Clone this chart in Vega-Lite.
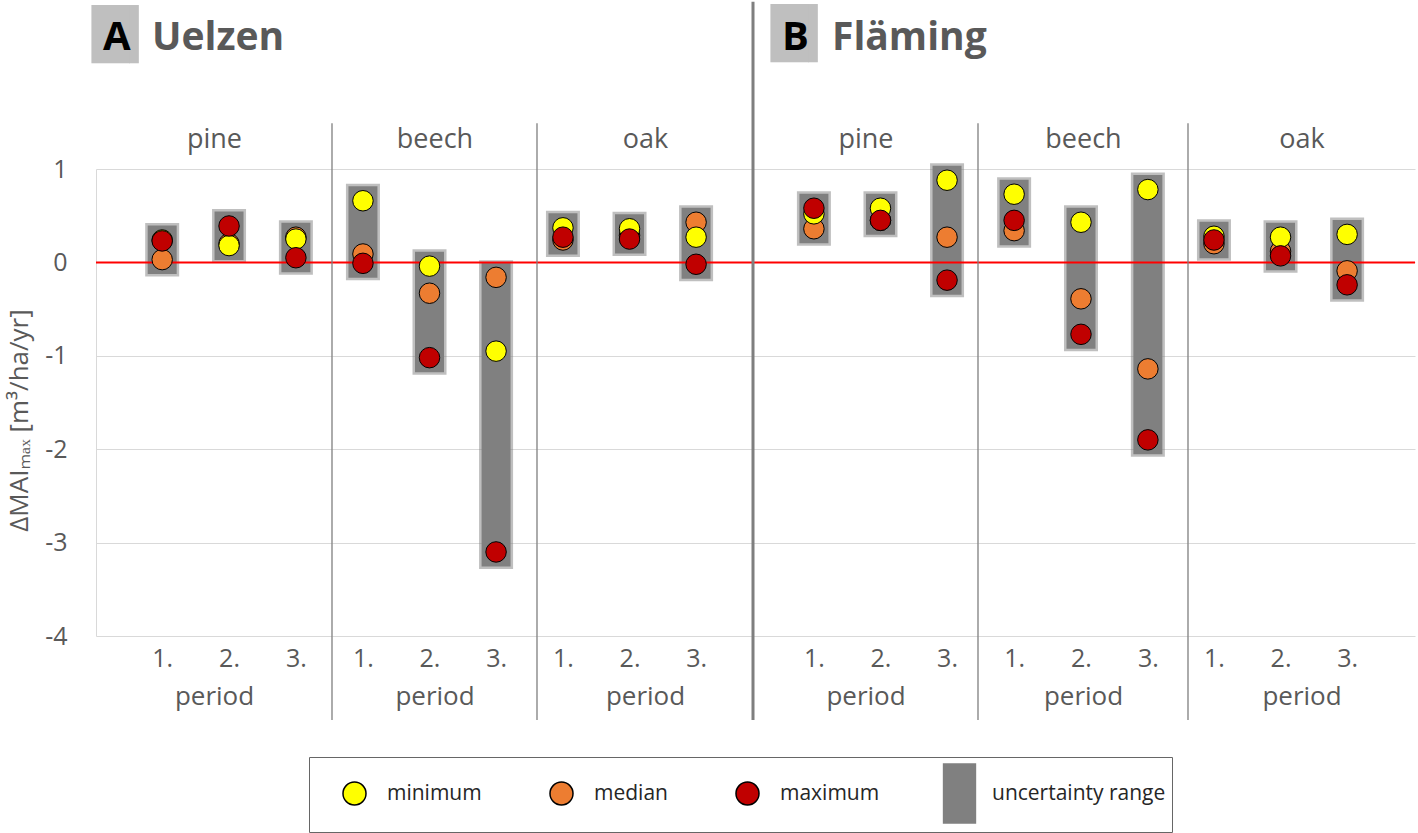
{
  "$schema": "https://vega.github.io/schema/vega-lite/v6.json",
  "padding": {"left": 6, "top": 0, "right": 0, "bottom": 0},
  "background": "#FFFFFF",
  "bounds": "flush",
  "spacing": 0,
  "datasets": {
    "mai": [
      {"site":"Uelzen","species":"pine","period":1,"stat":"median","value":0.03},
      {"site":"Uelzen","species":"pine","period":1,"stat":"minimum","value":0.24},
      {"site":"Uelzen","species":"pine","period":1,"stat":"maximum","value":0.23},
      {"site":"Uelzen","species":"pine","period":2,"stat":"median","value":0.2},
      {"site":"Uelzen","species":"pine","period":2,"stat":"minimum","value":0.18},
      {"site":"Uelzen","species":"pine","period":2,"stat":"maximum","value":0.39},
      {"site":"Uelzen","species":"pine","period":3,"stat":"median","value":0.27},
      {"site":"Uelzen","species":"pine","period":3,"stat":"minimum","value":0.25},
      {"site":"Uelzen","species":"pine","period":3,"stat":"maximum","value":0.05},
      {"site":"Uelzen","species":"beech","period":1,"stat":"median","value":0.09},
      {"site":"Uelzen","species":"beech","period":1,"stat":"minimum","value":0.66},
      {"site":"Uelzen","species":"beech","period":1,"stat":"maximum","value":-0.01},
      {"site":"Uelzen","species":"beech","period":2,"stat":"median","value":-0.33},
      {"site":"Uelzen","species":"beech","period":2,"stat":"minimum","value":-0.04},
      {"site":"Uelzen","species":"beech","period":2,"stat":"maximum","value":-1.02},
      {"site":"Uelzen","species":"beech","period":3,"stat":"median","value":-0.16},
      {"site":"Uelzen","species":"beech","period":3,"stat":"minimum","value":-0.95},
      {"site":"Uelzen","species":"beech","period":3,"stat":"maximum","value":-3.1},
      {"site":"Uelzen","species":"oak","period":1,"stat":"median","value":0.24},
      {"site":"Uelzen","species":"oak","period":1,"stat":"minimum","value":0.37},
      {"site":"Uelzen","species":"oak","period":1,"stat":"maximum","value":0.27},
      {"site":"Uelzen","species":"oak","period":2,"stat":"median","value":0.29},
      {"site":"Uelzen","species":"oak","period":2,"stat":"minimum","value":0.36},
      {"site":"Uelzen","species":"oak","period":2,"stat":"maximum","value":0.25},
      {"site":"Uelzen","species":"oak","period":3,"stat":"median","value":0.43},
      {"site":"Uelzen","species":"oak","period":3,"stat":"minimum","value":0.27},
      {"site":"Uelzen","species":"oak","period":3,"stat":"maximum","value":-0.02},
      {"site":"Fläming","species":"pine","period":1,"stat":"median","value":0.36},
      {"site":"Fläming","species":"pine","period":1,"stat":"minimum","value":0.52},
      {"site":"Fläming","species":"pine","period":1,"stat":"maximum","value":0.58},
      {"site":"Fläming","species":"pine","period":2,"stat":"median","value":0.45},
      {"site":"Fläming","species":"pine","period":2,"stat":"minimum","value":0.58},
      {"site":"Fläming","species":"pine","period":2,"stat":"maximum","value":0.45},
      {"site":"Fläming","species":"pine","period":3,"stat":"median","value":0.27},
      {"site":"Fläming","species":"pine","period":3,"stat":"minimum","value":0.88},
      {"site":"Fläming","species":"pine","period":3,"stat":"maximum","value":-0.19},
      {"site":"Fläming","species":"beech","period":1,"stat":"median","value":0.34},
      {"site":"Fläming","species":"beech","period":1,"stat":"minimum","value":0.73},
      {"site":"Fläming","species":"beech","period":1,"stat":"maximum","value":0.45},
      {"site":"Fläming","species":"beech","period":2,"stat":"median","value":-0.39},
      {"site":"Fläming","species":"beech","period":2,"stat":"minimum","value":0.43},
      {"site":"Fläming","species":"beech","period":2,"stat":"maximum","value":-0.77},
      {"site":"Fläming","species":"beech","period":3,"stat":"median","value":-1.14},
      {"site":"Fläming","species":"beech","period":3,"stat":"minimum","value":0.78},
      {"site":"Fläming","species":"beech","period":3,"stat":"maximum","value":-1.9},
      {"site":"Fläming","species":"oak","period":1,"stat":"median","value":0.2},
      {"site":"Fläming","species":"oak","period":1,"stat":"minimum","value":0.28},
      {"site":"Fläming","species":"oak","period":1,"stat":"maximum","value":0.24},
      {"site":"Fläming","species":"oak","period":2,"stat":"median","value":0.12},
      {"site":"Fläming","species":"oak","period":2,"stat":"minimum","value":0.27},
      {"site":"Fläming","species":"oak","period":2,"stat":"maximum","value":0.07},
      {"site":"Fläming","species":"oak","period":3,"stat":"median","value":-0.09},
      {"site":"Fläming","species":"oak","period":3,"stat":"minimum","value":0.3},
      {"site":"Fläming","species":"oak","period":3,"stat":"maximum","value":-0.24}
    ]
  },
  "hconcat": [
    {
      "width": 236, "height": 467,
      "data": {"name": "mai"},
      "transform": [{"filter": "datum.site === 'Uelzen' && datum.species === 'pine'"}],
      "title": {"text": "█▎", "anchor": "start", "frame": "group", "dx": -4, "offset": 64, "font": "DejaVu Sans", "fontSize": 49, "fontWeight": "normal", "color": "#BFBFBF"},
      "layer": [
        {"mark": {"type": "rule", "stroke": "#808080", "strokeWidth": 34, "strokeCap": "square", "opacity": 0.5},
         "encoding": {
           "x": {"field": "period", "type": "quantitative", "scale": {"domain": [0.01, 3.54], "nice": false, "zero": false},
                 "axis": {"orient": "top", "title": "pine", "labels": false, "ticks": false, "domain": false, "grid": false, "titleFontSize": 27, "titlePadding": 16}},
           "y": {"aggregate": "min", "field": "value", "type": "quantitative", "scale": {"domain": [-4, 1], "nice": false},
                 "axis": {"values": [-4, -3, -2, -1, 0, 1], "labelExpr": "'' + datum.value", "grid": true, "gridColor": "#D9D9D9", "domain": true, "domainColor": "#D9D9D9", "ticks": false, "labelFontSize": 25, "labelPadding": 29, "title": "ΔMAIₘₐₓ [m³/ha/yr]", "titleFontSize": 26, "titlePadding": 12, "titleY": 251}},
           "y2": {"aggregate": "max", "field": "value"}}},
        {"mark": {"type": "rule", "stroke": "#808080", "strokeWidth": 29, "strokeCap": "square"},
         "encoding": {
           "x": {"field": "period", "type": "quantitative", "axis": null},
           "y": {"aggregate": "min", "field": "value", "type": "quantitative",
                 "axis": {"values": [-4, -3, -2, -1, 0, 1], "labelExpr": "'' + datum.value", "grid": true, "gridColor": "#D9D9D9", "domain": true, "domainColor": "#D9D9D9", "ticks": false, "labelFontSize": 25, "labelPadding": 29, "title": "ΔMAIₘₐₓ [m³/ha/yr]", "titleFontSize": 26, "titlePadding": 12, "titleY": 251}},
           "y2": {"aggregate": "max", "field": "value"}}},
        {"data": {"values": [{}]}, "mark": {"type": "rule", "stroke": "#FF0000", "strokeWidth": 2},
         "encoding": {"y": {"datum": 0, "type": "quantitative",
                 "axis": {"values": [-4, -3, -2, -1, 0, 1], "labelExpr": "'' + datum.value", "grid": true, "gridColor": "#D9D9D9", "domain": true, "domainColor": "#D9D9D9", "ticks": false, "labelFontSize": 25, "labelPadding": 29, "title": "ΔMAIₘₐₓ [m³/ha/yr]", "titleFontSize": 26, "titlePadding": 12, "titleY": 251}}}},
        {"mark": {"type": "circle", "size": 420, "stroke": "#000000", "strokeWidth": 1, "opacity": 1},
         "encoding": {
           "x": {"field": "period", "type": "quantitative", "axis": {"orient": "bottom", "values": [1, 2, 3], "labelExpr": "datum.value + '.'", "title": "period", "ticks": false, "domain": false, "grid": false, "labelFontSize": 25, "labelPadding": 10, "titleFontSize": 26, "titlePadding": 12, "labelFlush": false}},
           "y": {"field": "value", "type": "quantitative",
                 "axis": {"values": [-4, -3, -2, -1, 0, 1], "labelExpr": "'' + datum.value", "grid": true, "gridColor": "#D9D9D9", "domain": true, "domainColor": "#D9D9D9", "ticks": false, "labelFontSize": 25, "labelPadding": 29, "title": "ΔMAIₘₐₓ [m³/ha/yr]", "titleFontSize": 26, "titlePadding": 12, "titleY": 251}},
           "color": {"field": "stat", "type": "nominal",
             "scale": {"domain": ["minimum", "median", "maximum", "uncertainty range"], "range": ["#FFFF00", "#ED7D31", "#C00000", "#808080"]},
             "legend": {"orient": "none", "legendX": 213, "legendY": 588, "direction": "horizontal", "title": null, "fillColor": "#FFFFFF", "strokeColor": "#666666", "padding": 6, "symbolOffset": 9, "labelOffset": 2, "columnPadding": 40, "labelFontSize": 21, "labelColor": "#262626", "labelFont": "Open Sans", "labelLimit": 400, "symbolSize": 3481, "symbolStrokeWidth": 1.5}}}},
        {"transform": [{"filter": "false"}],
         "mark": {"type": "point", "filled": true, "strokeWidth": 1.5, "opacity": 1},
         "encoding": {
           "x": {"field": "period", "type": "quantitative", "axis": null},
           "y": {"field": "value", "type": "quantitative",
                 "axis": {"values": [-4, -3, -2, -1, 0, 1], "labelExpr": "'' + datum.value", "grid": true, "gridColor": "#D9D9D9", "domain": true, "domainColor": "#D9D9D9", "ticks": false, "labelFontSize": 25, "labelPadding": 29, "title": "ΔMAIₘₐₓ [m³/ha/yr]", "titleFontSize": 26, "titlePadding": 12, "titleY": 251}},
           "color": {"field": "stat", "type": "nominal"},
           "shape": {"field": "stat", "type": "nominal",
             "scale": {"domain": ["minimum", "median", "maximum", "uncertainty range"], "range": [
               "M0,-1M-0.39,0A0.39,0.39,0,1,1,0.39,0A0.39,0.39,0,1,1,-0.39,0ZM0,1",
               "M0,-1M-0.39,0A0.39,0.39,0,1,1,0.39,0A0.39,0.39,0,1,1,-0.39,0ZM0,1",
               "M0,-1M-0.39,0A0.39,0.39,0,1,1,0.39,0A0.39,0.39,0,1,1,-0.39,0ZM0,1",
               "M-0.54,-1H0.54V1H-0.54Z"]}},
           "stroke": {"field": "stat", "type": "nominal",
             "scale": {"domain": ["minimum", "median", "maximum", "uncertainty range"], "range": ["#000000", "#000000", "#000000", "#808080"]}}}}
      ],
      "resolve": {"axis": {"x": "independent"}}
    },
    {
      "width": 205, "height": 467,
      "data": {"name": "mai"},
      "transform": [{"filter": "datum.site === 'Uelzen' && datum.species === 'beech'"}],
      "title": {"text": "A", "anchor": "start", "frame": "group", "dx": -229, "offset": 65, "font": "Open Sans", "fontSize": 40, "fontWeight": "bold", "color": "#000000"},
      "layer": [
        {"mark": {"type": "rule", "stroke": "#808080", "strokeWidth": 34, "strokeCap": "square", "opacity": 0.5},
         "encoding": {
           "x": {"field": "period", "type": "quantitative", "scale": {"domain": [0.535, 3.615], "nice": false, "zero": false},
                 "axis": {"orient": "top", "title": "beech", "labels": false, "ticks": false, "domain": false, "grid": false, "titleFontSize": 27, "titlePadding": 16}},
           "y": {"aggregate": "min", "field": "value", "type": "quantitative", "scale": {"domain": [-4, 1], "nice": false},
                 "axis": {"values": [-4, -3, -2, -1, 0, 1], "grid": true, "gridColor": "#D9D9D9", "labels": false, "domain": false, "ticks": false, "title": null}},
           "y2": {"aggregate": "max", "field": "value"}}},
        {"mark": {"type": "rule", "stroke": "#808080", "strokeWidth": 29, "strokeCap": "square"},
         "encoding": {
           "x": {"field": "period", "type": "quantitative", "axis": null},
           "y": {"aggregate": "min", "field": "value", "type": "quantitative",
                 "axis": {"values": [-4, -3, -2, -1, 0, 1], "grid": true, "gridColor": "#D9D9D9", "labels": false, "domain": false, "ticks": false, "title": null}},
           "y2": {"aggregate": "max", "field": "value"}}},
        {"data": {"values": [{}]}, "mark": {"type": "rule", "stroke": "#FF0000", "strokeWidth": 2},
         "encoding": {"y": {"datum": 0, "type": "quantitative",
                 "axis": {"values": [-4, -3, -2, -1, 0, 1], "grid": true, "gridColor": "#D9D9D9", "labels": false, "domain": false, "ticks": false, "title": null}}}},
        {"mark": {"type": "circle", "size": 420, "stroke": "#000000", "strokeWidth": 1, "opacity": 1},
         "encoding": {
           "x": {"field": "period", "type": "quantitative", "axis": {"orient": "bottom", "values": [1, 2, 3], "labelExpr": "datum.value + '.'", "title": "period", "ticks": false, "domain": false, "grid": false, "labelFontSize": 25, "labelPadding": 10, "titleFontSize": 26, "titlePadding": 12, "labelFlush": false}},
           "y": {"field": "value", "type": "quantitative",
                 "axis": {"values": [-4, -3, -2, -1, 0, 1], "grid": true, "gridColor": "#D9D9D9", "labels": false, "domain": false, "ticks": false, "title": null}},
           "color": {"field": "stat", "type": "nominal", "legend": null}}},
        {"data": {"values": [{}]}, "mark": {"type": "rule", "stroke": "#7F7F7F", "strokeWidth": 1.3},
         "encoding": {"x": {"datum": 0.535, "type": "quantitative", "axis": null},
                      "y": {"datum": 1.49, "type": "quantitative", "axis": {"values": [-4, -3, -2, -1, 0, 1], "grid": true, "gridColor": "#D9D9D9", "labels": false, "domain": false, "ticks": false, "title": null}},
                      "y2": {"datum": -4.9}}}
      ],
      "resolve": {"axis": {"x": "independent"}}
    },
    {
      "width": 216, "height": 467,
      "data": {"name": "mai"},
      "transform": [{"filter": "datum.site === 'Uelzen' && datum.species === 'oak'"}],
      "title": {"text": "Uelzen", "anchor": "start", "frame": "group", "dx": -385, "offset": 65, "font": "Open Sans", "fontSize": 39, "fontWeight": "bold", "color": "#595959"},
      "layer": [
        {"mark": {"type": "rule", "stroke": "#808080", "strokeWidth": 34, "strokeCap": "square", "opacity": 0.5},
         "encoding": {
           "x": {"field": "period", "type": "quantitative", "scale": {"domain": [0.61, 3.855], "nice": false, "zero": false},
                 "axis": {"orient": "top", "title": "oak", "labels": false, "ticks": false, "domain": false, "grid": false, "titleFontSize": 27, "titlePadding": 16}},
           "y": {"aggregate": "min", "field": "value", "type": "quantitative", "scale": {"domain": [-4, 1], "nice": false},
                 "axis": {"values": [-4, -3, -2, -1, 0, 1], "grid": true, "gridColor": "#D9D9D9", "labels": false, "domain": false, "ticks": false, "title": null}},
           "y2": {"aggregate": "max", "field": "value"}}},
        {"mark": {"type": "rule", "stroke": "#808080", "strokeWidth": 29, "strokeCap": "square"},
         "encoding": {
           "x": {"field": "period", "type": "quantitative", "axis": null},
           "y": {"aggregate": "min", "field": "value", "type": "quantitative",
                 "axis": {"values": [-4, -3, -2, -1, 0, 1], "grid": true, "gridColor": "#D9D9D9", "labels": false, "domain": false, "ticks": false, "title": null}},
           "y2": {"aggregate": "max", "field": "value"}}},
        {"data": {"values": [{}]}, "mark": {"type": "rule", "stroke": "#FF0000", "strokeWidth": 2},
         "encoding": {"y": {"datum": 0, "type": "quantitative",
                 "axis": {"values": [-4, -3, -2, -1, 0, 1], "grid": true, "gridColor": "#D9D9D9", "labels": false, "domain": false, "ticks": false, "title": null}}}},
        {"mark": {"type": "circle", "size": 420, "stroke": "#000000", "strokeWidth": 1, "opacity": 1},
         "encoding": {
           "x": {"field": "period", "type": "quantitative", "axis": {"orient": "bottom", "values": [1, 2, 3], "labelExpr": "datum.value + '.'", "title": "period", "ticks": false, "domain": false, "grid": false, "labelFontSize": 25, "labelPadding": 10, "titleFontSize": 26, "titlePadding": 12, "labelFlush": false}},
           "y": {"field": "value", "type": "quantitative",
                 "axis": {"values": [-4, -3, -2, -1, 0, 1], "grid": true, "gridColor": "#D9D9D9", "labels": false, "domain": false, "ticks": false, "title": null}},
           "color": {"field": "stat", "type": "nominal", "legend": null}}},
        {"data": {"values": [{}]}, "mark": {"type": "rule", "stroke": "#7F7F7F", "strokeWidth": 1.3},
         "encoding": {"x": {"datum": 0.61, "type": "quantitative", "axis": null},
                      "y": {"datum": 1.49, "type": "quantitative", "axis": {"values": [-4, -3, -2, -1, 0, 1], "grid": true, "gridColor": "#D9D9D9", "labels": false, "domain": false, "ticks": false, "title": null}},
                      "y2": {"datum": -4.9}}}
      ],
      "resolve": {"axis": {"x": "independent"}}
    },
    {
      "width": 225, "height": 467,
      "data": {"name": "mai"},
      "transform": [{"filter": "datum.site === 'Fläming' && datum.species === 'pine'"}],
      "title": {"text": "█▎", "anchor": "start", "frame": "group", "dx": 18, "offset": -60, "font": "DejaVu Sans", "fontSize": 49, "fontWeight": "normal", "color": "#BFBFBF"},
      "layer": [
        {"mark": {"type": "rule", "stroke": "#808080", "strokeWidth": 34, "strokeCap": "square", "opacity": 0.5},
         "encoding": {
           "x": {"field": "period", "type": "quantitative", "scale": {"domain": [0.085, 3.465], "nice": false, "zero": false},
                 "axis": {"orient": "top", "title": "pine", "labels": false, "ticks": false, "domain": false, "grid": false, "titleFontSize": 27, "titlePadding": 16}},
           "y": {"aggregate": "min", "field": "value", "type": "quantitative", "scale": {"domain": [-4, 1], "nice": false},
                 "axis": {"values": [-4, -3, -2, -1, 0, 1], "grid": true, "gridColor": "#D9D9D9", "labels": false, "domain": false, "ticks": false, "title": null}},
           "y2": {"aggregate": "max", "field": "value"}}},
        {"mark": {"type": "rule", "stroke": "#808080", "strokeWidth": 29, "strokeCap": "square"},
         "encoding": {
           "x": {"field": "period", "type": "quantitative", "axis": null},
           "y": {"aggregate": "min", "field": "value", "type": "quantitative",
                 "axis": {"values": [-4, -3, -2, -1, 0, 1], "grid": true, "gridColor": "#D9D9D9", "labels": false, "domain": false, "ticks": false, "title": null}},
           "y2": {"aggregate": "max", "field": "value"}}},
        {"data": {"values": [{}]}, "mark": {"type": "rule", "stroke": "#FF0000", "strokeWidth": 2},
         "encoding": {"y": {"datum": 0, "type": "quantitative",
                 "axis": {"values": [-4, -3, -2, -1, 0, 1], "grid": true, "gridColor": "#D9D9D9", "labels": false, "domain": false, "ticks": false, "title": null}}}},
        {"mark": {"type": "circle", "size": 420, "stroke": "#000000", "strokeWidth": 1, "opacity": 1},
         "encoding": {
           "x": {"field": "period", "type": "quantitative", "axis": {"orient": "bottom", "values": [1, 2, 3], "labelExpr": "datum.value + '.'", "title": "period", "ticks": false, "domain": false, "grid": false, "labelFontSize": 25, "labelPadding": 10, "titleFontSize": 26, "titlePadding": 12, "labelFlush": false}},
           "y": {"field": "value", "type": "quantitative",
                 "axis": {"values": [-4, -3, -2, -1, 0, 1], "grid": true, "gridColor": "#D9D9D9", "labels": false, "domain": false, "ticks": false, "title": null}},
           "color": {"field": "stat", "type": "nominal", "legend": null}}},
        {"data": {"values": [{}]}, "mark": {"type": "rule", "stroke": "#7F7F7F", "strokeWidth": 3},
         "encoding": {"x": {"datum": 0.085, "type": "quantitative", "axis": null},
                      "y": {"datum": 2.79, "type": "quantitative", "axis": {"values": [-4, -3, -2, -1, 0, 1], "grid": true, "gridColor": "#D9D9D9", "labels": false, "domain": false, "ticks": false, "title": null}},
                      "y2": {"datum": -4.9}}}
      ],
      "resolve": {"axis": {"x": "independent"}}
    },
    {
      "width": 210, "height": 467,
      "data": {"name": "mai"},
      "transform": [{"filter": "datum.site === 'Fläming' && datum.species === 'beech'"}],
      "title": {"text": "B", "anchor": "start", "frame": "group", "dx": -196, "offset": 65, "font": "Open Sans", "fontSize": 40, "fontWeight": "bold", "color": "#000000"},
      "layer": [
        {"mark": {"type": "rule", "stroke": "#808080", "strokeWidth": 34, "strokeCap": "square", "opacity": 0.5},
         "encoding": {
           "x": {"field": "period", "type": "quantitative", "scale": {"domain": [0.46, 3.6], "nice": false, "zero": false},
                 "axis": {"orient": "top", "title": "beech", "labels": false, "ticks": false, "domain": false, "grid": false, "titleFontSize": 27, "titlePadding": 16}},
           "y": {"aggregate": "min", "field": "value", "type": "quantitative", "scale": {"domain": [-4, 1], "nice": false},
                 "axis": {"values": [-4, -3, -2, -1, 0, 1], "grid": true, "gridColor": "#D9D9D9", "labels": false, "domain": false, "ticks": false, "title": null}},
           "y2": {"aggregate": "max", "field": "value"}}},
        {"mark": {"type": "rule", "stroke": "#808080", "strokeWidth": 29, "strokeCap": "square"},
         "encoding": {
           "x": {"field": "period", "type": "quantitative", "axis": null},
           "y": {"aggregate": "min", "field": "value", "type": "quantitative",
                 "axis": {"values": [-4, -3, -2, -1, 0, 1], "grid": true, "gridColor": "#D9D9D9", "labels": false, "domain": false, "ticks": false, "title": null}},
           "y2": {"aggregate": "max", "field": "value"}}},
        {"data": {"values": [{}]}, "mark": {"type": "rule", "stroke": "#FF0000", "strokeWidth": 2},
         "encoding": {"y": {"datum": 0, "type": "quantitative",
                 "axis": {"values": [-4, -3, -2, -1, 0, 1], "grid": true, "gridColor": "#D9D9D9", "labels": false, "domain": false, "ticks": false, "title": null}}}},
        {"mark": {"type": "circle", "size": 420, "stroke": "#000000", "strokeWidth": 1, "opacity": 1},
         "encoding": {
           "x": {"field": "period", "type": "quantitative", "axis": {"orient": "bottom", "values": [1, 2, 3], "labelExpr": "datum.value + '.'", "title": "period", "ticks": false, "domain": false, "grid": false, "labelFontSize": 25, "labelPadding": 10, "titleFontSize": 26, "titlePadding": 12, "labelFlush": false}},
           "y": {"field": "value", "type": "quantitative",
                 "axis": {"values": [-4, -3, -2, -1, 0, 1], "grid": true, "gridColor": "#D9D9D9", "labels": false, "domain": false, "ticks": false, "title": null}},
           "color": {"field": "stat", "type": "nominal", "legend": null}}},
        {"data": {"values": [{}]}, "mark": {"type": "rule", "stroke": "#7F7F7F", "strokeWidth": 1.3},
         "encoding": {"x": {"datum": 0.46, "type": "quantitative", "axis": null},
                      "y": {"datum": 1.49, "type": "quantitative", "axis": {"values": [-4, -3, -2, -1, 0, 1], "grid": true, "gridColor": "#D9D9D9", "labels": false, "domain": false, "ticks": false, "title": null}},
                      "y2": {"datum": -4.9}}}
      ],
      "resolve": {"axis": {"x": "independent"}}
    },
    {
      "width": 227, "height": 467,
      "data": {"name": "mai"},
      "transform": [{"filter": "datum.site === 'Fläming' && datum.species === 'oak'"}],
      "title": {"text": "Fläming", "anchor": "start", "frame": "group", "dx": -356, "offset": 65, "font": "Open Sans", "fontSize": 39, "fontWeight": "bold", "color": "#595959"},
      "layer": [
        {"mark": {"type": "rule", "stroke": "#808080", "strokeWidth": 34, "strokeCap": "square", "opacity": 0.5},
         "encoding": {
           "x": {"field": "period", "type": "quantitative", "scale": {"domain": [0.61, 4.02], "nice": false, "zero": false},
                 "axis": {"orient": "top", "title": "oak", "labels": false, "ticks": false, "domain": false, "grid": false, "titleFontSize": 27, "titlePadding": 16}},
           "y": {"aggregate": "min", "field": "value", "type": "quantitative", "scale": {"domain": [-4, 1], "nice": false},
                 "axis": {"values": [-4, -3, -2, -1, 0, 1], "grid": true, "gridColor": "#D9D9D9", "labels": false, "domain": false, "ticks": false, "title": null}},
           "y2": {"aggregate": "max", "field": "value"}}},
        {"mark": {"type": "rule", "stroke": "#808080", "strokeWidth": 29, "strokeCap": "square"},
         "encoding": {
           "x": {"field": "period", "type": "quantitative", "axis": null},
           "y": {"aggregate": "min", "field": "value", "type": "quantitative",
                 "axis": {"values": [-4, -3, -2, -1, 0, 1], "grid": true, "gridColor": "#D9D9D9", "labels": false, "domain": false, "ticks": false, "title": null}},
           "y2": {"aggregate": "max", "field": "value"}}},
        {"data": {"values": [{}]}, "mark": {"type": "rule", "stroke": "#FF0000", "strokeWidth": 2},
         "encoding": {"y": {"datum": 0, "type": "quantitative",
                 "axis": {"values": [-4, -3, -2, -1, 0, 1], "grid": true, "gridColor": "#D9D9D9", "labels": false, "domain": false, "ticks": false, "title": null}}}},
        {"mark": {"type": "circle", "size": 420, "stroke": "#000000", "strokeWidth": 1, "opacity": 1},
         "encoding": {
           "x": {"field": "period", "type": "quantitative", "axis": {"orient": "bottom", "values": [1, 2, 3], "labelExpr": "datum.value + '.'", "title": "period", "ticks": false, "domain": false, "grid": false, "labelFontSize": 25, "labelPadding": 10, "titleFontSize": 26, "titlePadding": 12, "labelFlush": false}},
           "y": {"field": "value", "type": "quantitative",
                 "axis": {"values": [-4, -3, -2, -1, 0, 1], "grid": true, "gridColor": "#D9D9D9", "labels": false, "domain": false, "ticks": false, "title": null}},
           "color": {"field": "stat", "type": "nominal", "legend": null}}},
        {"data": {"values": [{}]}, "mark": {"type": "rule", "stroke": "#7F7F7F", "strokeWidth": 1.3},
         "encoding": {"x": {"datum": 0.61, "type": "quantitative", "axis": null},
                      "y": {"datum": 1.49, "type": "quantitative", "axis": {"values": [-4, -3, -2, -1, 0, 1], "grid": true, "gridColor": "#D9D9D9", "labels": false, "domain": false, "ticks": false, "title": null}},
                      "y2": {"datum": -4.9}}}
      ],
      "resolve": {"axis": {"x": "independent"}}
    }
  ],
  "config": {
    "font": "Open Sans",
    "view": {"stroke": null},
    "axis": {"labelColor": "#595959", "titleColor": "#595959", "labelFont": "Open Sans", "titleFont": "Open Sans", "titleFontWeight": "normal"}
  }
}
